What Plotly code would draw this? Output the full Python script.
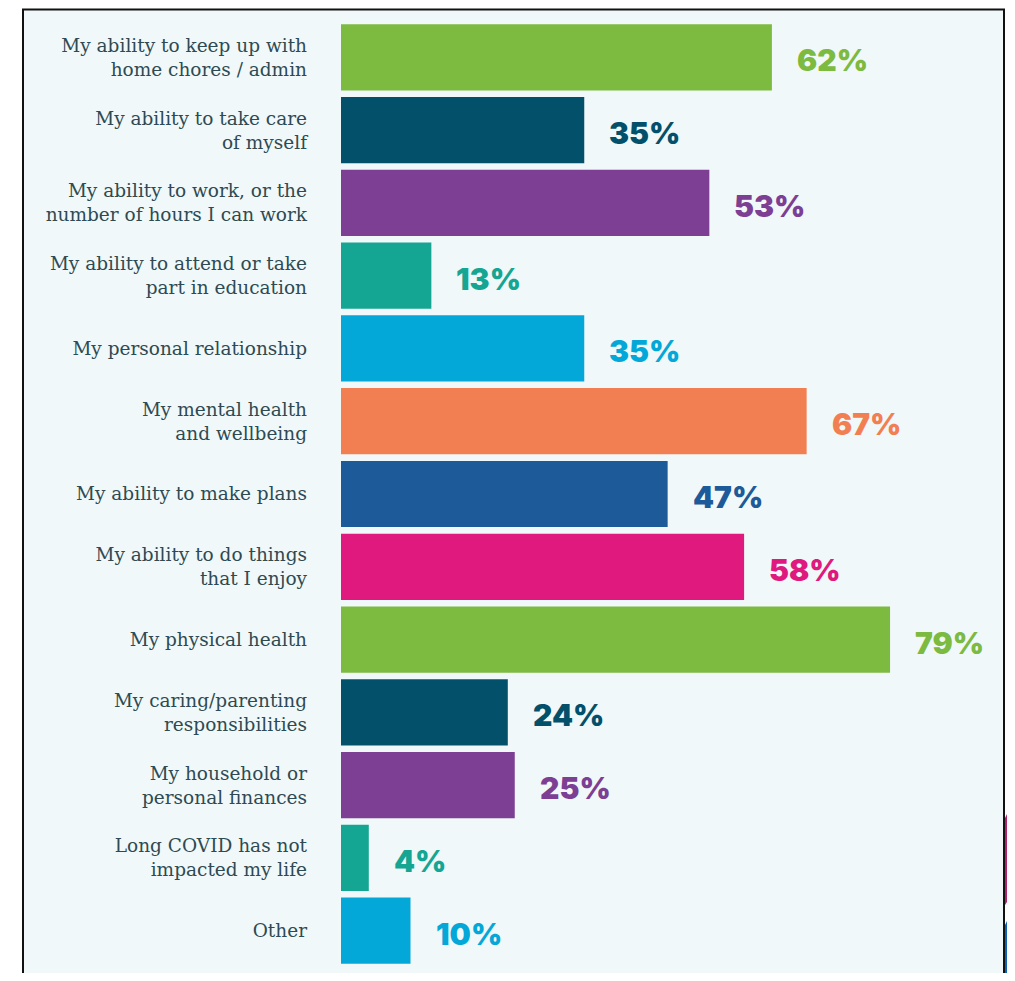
import plotly.graph_objects as go

categories = [
    "My ability to keep up with<br>home chores / admin",
    "My ability to take care<br>of myself",
    "My ability to work, or the<br>number of hours I can work",
    "My ability to attend or take<br>part in education",
    "My personal relationship",
    "My mental health<br>and wellbeing",
    "My ability to make plans",
    "My ability to do things<br>that I enjoy",
    "My physical health",
    "My caring/parenting<br>responsibilities",
    "My household or<br>personal finances",
    "Long COVID has not<br>impacted my life",
    "Other",
]
values = [62, 35, 53, 13, 35, 67, 47, 58, 79, 24, 25, 4, 10]
colors = ["#7cba40", "#03506a", "#7c3f93", "#15a693", "#03a8d8", "#f27f52",
          "#1d5a9a", "#e0197f", "#7cba40", "#03506a", "#7c3f93", "#15a693", "#03a8d8"]

OFF = 8  # page body margin
W, H = 1015 - OFF, 981 - 2 * OFF
# plot area in page coords
PL, PR, PT, PB = 341, 1000, 21, 967
SCALE = 6.95  # px per percent
ml, mr, mt, mb = PL - OFF, W - (PR - OFF), PT - OFF, H - (PB - OFF)
pw, ph = PR - PL, PB - PT
xmax = pw / SCALE


def px(x):
    return (x - PL) / pw


def py(y):
    return 1 - (y - PT) / ph


fig = go.Figure(go.Bar(
    y=categories, x=values, orientation="h",
    marker=dict(color=colors, line=dict(width=0)),
    hoverinfo="skip",
))

for c, v, col in zip(categories, values, colors):
    fig.add_annotation(
        x=v, y=c, xref="x", yref="y", text=f"{v}%", showarrow=False,
        xanchor="left", xshift=23, yshift=-3,
        font=dict(family="Inter, Roboto, sans-serif", size=30, color=col, weight=900),
    )

shapes = [
    dict(type="rect", xref="paper", yref="paper", x0=px(23), x1=px(1004),
         y0=py(1000), y1=py(9.5), fillcolor="#f1f8f9",
         line=dict(color="#111111", width=2), layer="below"),
    dict(type="path", xref="paper", yref="paper",
         path=f"M {px(1005)},{py(818)} L {px(1015)},{py(798)} L {px(1015)},{py(890)} L {px(1005)},{py(905)} Z",
         fillcolor="#b0226f", line=dict(width=0)),
    dict(type="path", xref="paper", yref="paper",
         path=f"M {px(1005)},{py(925)} L {px(1015)},{py(905)} L {px(1015)},{py(990)} L {px(1005)},{py(990)} Z",
         fillcolor="#0c62b6", line=dict(width=0)),
]

fig.update_layout(
    width=W, height=H,
    margin=dict(l=ml, r=mr, t=mt, b=mb, pad=0),
    paper_bgcolor="white", plot_bgcolor="#f1f8f9",
    bargap=0.09, showlegend=False,
    shapes=shapes,
    xaxis=dict(range=[0, xmax], visible=False, fixedrange=True),
    yaxis=dict(autorange="reversed", showgrid=False, zeroline=False, showline=False,
               ticks="", ticklabelstandoff=33,
               tickfont=dict(family="DejaVu Serif, serif", size=18.5, color="#2e4a52"),
               fixedrange=True),
)

fig.write_html("out.html")
